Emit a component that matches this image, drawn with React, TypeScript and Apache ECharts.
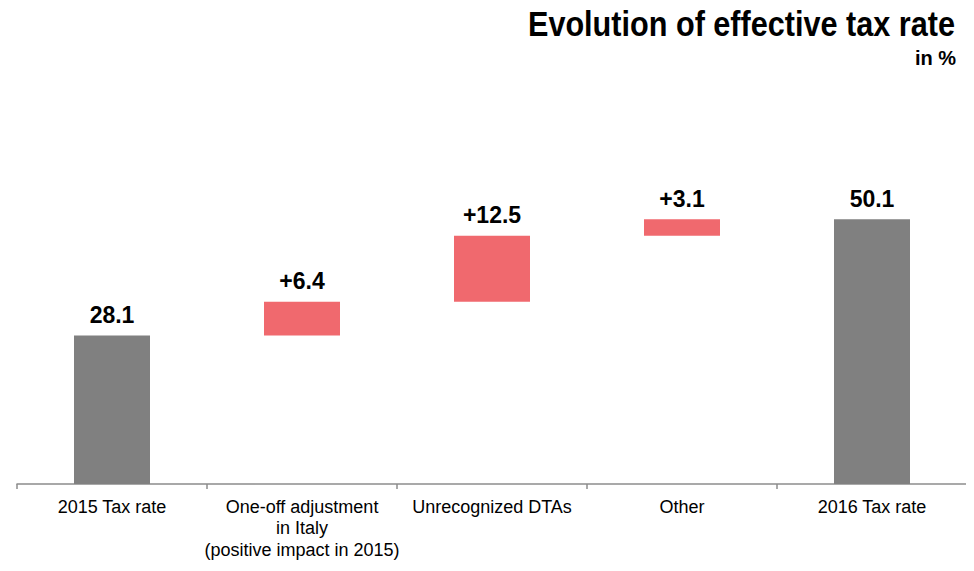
import React, { useEffect, useRef } from "react";
import * as echarts from "echarts";

const categories = [
  "2015 Tax rate",
  "One-off adjustment\nin Italy\n(positive impact in 2015)",
  "Unrecognized DTAs",
  "Other",
  "2016 Tax rate",
];
const baseValues = [0, 28.1, 34.5, 47.0, 0];
const barValues = [28.1, 6.4, 12.5, 3.1, 50.1];
const labelTexts = ["28.1", "+6.4", "+12.5", "+3.1", "50.1"];
const isTotal = [true, false, false, false, true];
const titleText = "Evolution of effective tax rate";
const subtitleText = "in %";

const FONT = "'Liberation Sans Narrow', 'Arial Narrow', 'Liberation Sans', Arial, sans-serif";

export default function App() {
  const ref = useRef<HTMLDivElement>(null);
  useEffect(() => {
    if (!ref.current) return;
    const chart = echarts.init(ref.current, null, { renderer: "svg" });
    chart.setOption({
      animation: false,
      graphic: [
        {
          type: "text",
          x: 955,
          y: 6,
          scaleX: 0.875,
          style: {
            text: titleText,
            align: "right",
            verticalAlign: "top",
            fontFamily: FONT,
            fontWeight: "bold",
            fontSize: 35,
            fill: "#000",
          },
        },
        {
          type: "text",
          x: 956,
          y: 48,
          style: {
            text: subtitleText,
            align: "right",
            verticalAlign: "top",
            fontFamily: FONT,
            fontWeight: "bold",
            fontSize: 20,
            fill: "#000",
          },
        },
      ],
      grid: { left: 17, right: 7, top: 167, bottom: 87, containLabel: false },
      xAxis: {
        type: "category",
        data: categories,
        axisLine: { lineStyle: { color: "#8c8c8c", width: 1.5 } },
        axisTick: { show: true, alignWithLabel: false, length: 5, lineStyle: { color: "#8c8c8c", width: 1.5 } },
        axisLabel: {
          interval: 0,
          fontFamily: FONT,
          fontSize: 18,
          color: "#000",
          lineHeight: 21.5,
          margin: 12,
        },
      },
      yAxis: {
        type: "value",
        min: 0,
        max: 60,
        show: false,
        splitLine: { show: false },
      },
      series: [
        {
          type: "bar",
          stack: "w",
          data: baseValues,
          itemStyle: { color: "transparent" },
          barWidth: "40%",
          silent: true,
        },
        {
          type: "bar",
          stack: "w",
          barWidth: "40%",
          data: barValues.map((v, i) => ({
            value: v,
            itemStyle: { color: isTotal[i] ? "#808080" : "#F0696E" },
          })),
          label: {
            show: true,
            position: "top",
            distance: 9,
            fontFamily: FONT,
            fontWeight: "bold",
            fontSize: 23,
            color: "#000",
            formatter: (p: any) => labelTexts[p.dataIndex],
          },
        },
      ],
    });
    return () => chart.dispose();
  }, []);
  return <div ref={ref} style={{ width: 974, height: 571, margin: -8 }} />;
}
